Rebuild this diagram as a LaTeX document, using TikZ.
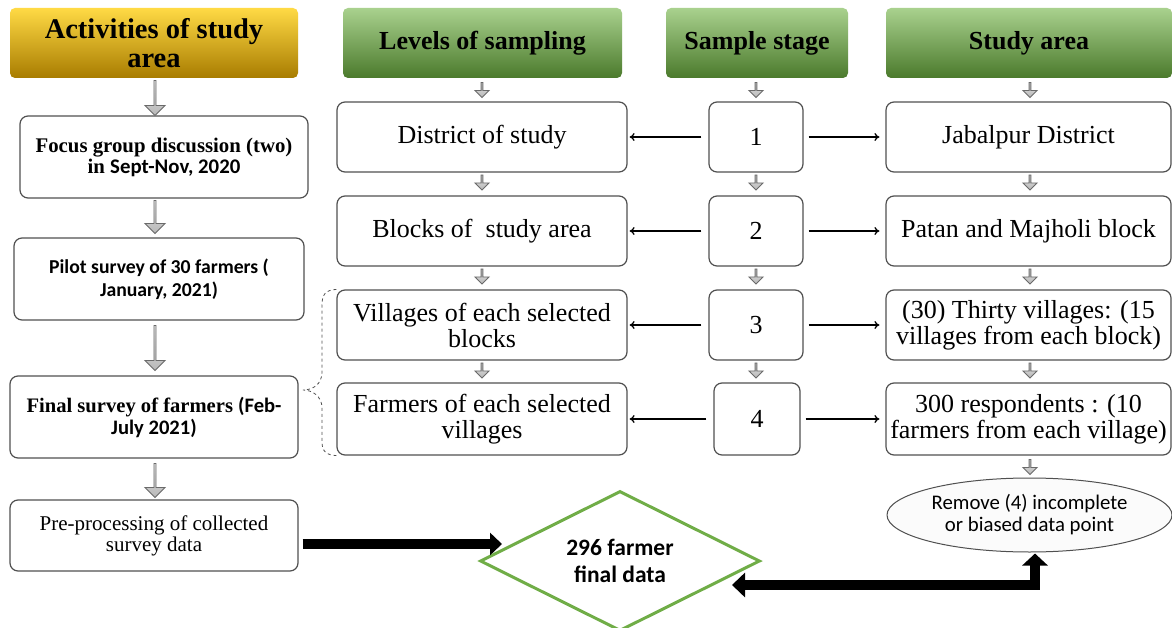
\documentclass[tikz,border=0pt]{standalone}
\usepackage{fontspec}
\setmainfont{Liberation Serif}
\newfontfamily\calfont{Carlito}
\usetikzlibrary{shapes.geometric,shapes.arrows,arrows.meta,calc}
\definecolor{gtop}{HTML}{FFDA45}
\definecolor{gmid}{HTML}{FFC000}
\definecolor{gbot}{HTML}{A87C00}
\definecolor{ntop}{HTML}{A9D18E}
\definecolor{nmid}{HTML}{70AD47}
\definecolor{nbot}{HTML}{4B7A2C}
\definecolor{boxline}{HTML}{505050}
\definecolor{arrfill}{HTML}{B8B8B8}
\definecolor{arrline}{HTML}{6A6A6A}
\definecolor{diagreen}{HTML}{70AD47}
\tikzset{
  hdr/.style={rounded corners=5pt, draw=none, align=center, inner sep=0pt,
    minimum height=70, font=\fontsize{26}{29}\selectfont\bfseries},
  goldhdr/.style={hdr, top color=gtop, middle color=gmid, bottom color=gbot,
    font=\fontsize{28.5}{29}\selectfont\bfseries},
  greenhdr/.style={hdr, top color=ntop, middle color=nmid, bottom color=nbot},
  lbox/.style={draw=boxline, line width=1.2pt, rounded corners=8pt, fill=white,
    align=center, inner sep=2pt},
  mbox/.style={lbox, minimum height=70, font=\fontsize{26}{26}\selectfont},
  bigarr/.style={single arrow, draw=arrline, line width=0.9pt, top color=arrfill!40, bottom color=arrfill,
    shape border rotate=270, minimum width=20, single arrow head extend=4pt,
    single arrow head indent=0pt, inner sep=0pt},
  smallarr/.style={bigarr, minimum width=14, single arrow head extend=3pt, minimum height=15},
  thinarr/.style={-{To[length=5pt,width=8pt]}, line width=1.3pt, black},
  thickarr/.style={line width=10pt, black, line join=miter},
}
\begin{document}
\begin{tikzpicture}[x=1pt,y=-1pt]
\useasboundingbox (0,0) rectangle (1172,628);
\fill[white] (0,0) rectangle (1172,628);
\clip (0,0) rectangle (1172,628);

% headers
\node[goldhdr, minimum width=288] (hA) at (154,43) {Activities of study\\area};
\node[greenhdr, minimum width=279] (hL) at (482.5,43) {Levels of sampling};
\node[greenhdr, minimum width=182] (hS) at (757,43) {Sample stage};
\node[greenhdr, minimum width=286] (hR) at (1029,43) {Study area};

% left column
\node[lbox, minimum width=288, minimum height=82, font=\fontsize{20.8}{21}\selectfont\bfseries] (f1) at (164,157)
  {Focus group discussion (two)\\in {\calfont Sept-Nov, 2020}};
\node[lbox, minimum width=290, minimum height=82, font=\fontsize{19.7}{23}\selectfont\calfont\bfseries] (f2) at (159,279)
  {Pilot survey of 30 farmers (\\January, 2021)};
\node[lbox, minimum width=288, minimum height=82, font=\fontsize{20.6}{22}\selectfont\bfseries] (f3) at (154,417)
  {Final survey of farmers {\calfont(Feb-}\\{\calfont July 2021)}};
\node[lbox, minimum width=288, minimum height=71, font=\fontsize{21}{21}\selectfont] (f4) at (154,535.5)
  {Pre-processing of collected\\survey data};

\node[bigarr, minimum height=35] (a1) at (155,97.5) {};
\node[bigarr, minimum height=33] (a2) at (155,216.5) {};
\node[bigarr, minimum height=45] (a3) at (155,347.5) {};
\node[bigarr, minimum height=34] (a4) at (155,480) {};

% middle column
\node[mbox, minimum width=290] (m1) at (482,137) {District of study};
\node[mbox, minimum width=290] (m2) at (482,231) {Blocks of \ study area};
\node[mbox, minimum width=290] (m3) at (482,325) {Villages of each selected\\blocks};
\node[mbox, minimum width=290, minimum height=72] (m4) at (482,419) {Farmers of each selected\\villages};

% number column
\node[mbox, minimum width=94] (n1) at (756,137) {1};
\node[mbox, minimum width=94] (n2) at (756,231) {2};
\node[mbox, minimum width=94] (n3) at (756,325) {3};
\node[mbox, minimum width=86, minimum height=72] (n4) at (757,419) {4};

% right column
\node[mbox, minimum width=285] (r1) at (1028.5,137) {Jabalpur District};
\node[mbox, minimum width=285] (r2) at (1028.5,231) {Patan and Majholi block};
\node[mbox, minimum width=285] (r3) at (1028.5,325) {(30) Thirty villages: (15\\villages from each block)};
\node[mbox, minimum width=285, minimum height=72] (r4) at (1028.5,419) {300 respondents : (10\\farmers from each village)};

\node[ellipse, draw=boxline, line width=1pt, fill=gray!3, minimum width=285, minimum height=74, inner sep=0pt,
  align=center, font=\fontsize{20.8}{22}\selectfont\calfont] (el) at (1029.5,515)
  {Remove (4) incomplete\\or biased data point};

\node[diamond, draw=diagreen, line width=3pt, fill=white, minimum width=280, minimum height=140, aspect=2,
  inner sep=0pt, align=center, font=\fontsize{23.5}{27}\selectfont\calfont\bfseries] (dia) at (620,561)
  {296 farmer\\final data};

% small gray arrows
\foreach \x/\c in {482/m,756/n,1030/r}{
  \node[smallarr] (\c a0) at (\x,89.5) {};
  \node[smallarr] (\c a1) at (\x,182) {};
  \node[smallarr] (\c a2) at (\x,276) {};
  \node[smallarr] (\c a3) at (\x,370) {};
}
\node[smallarr] (ra4) at (1030,466.5) {};

% thin arrows
\foreach \i in {1,2,3,4}{
  \draw[thinarr, shorten <=7pt, shorten >=2pt] (n\i.west) -- (m\i.east);
  \draw[thinarr, shorten <=5pt, shorten >=6pt] (n\i.east) -- (r\i.west);
}

% dashed brace
\coordinate (brtip) at (303,390);
\draw[dashed, line width=0.8pt, boxline] (m3.north west) .. controls (325,290) and (322,295) .. (322,305)
  -- (322,372) .. controls (322,385) and (312,390) .. (brtip)
  .. controls (312,390) and (322,396) .. (322,408)
  -- (322,442) .. controls (322,452) and (327,455) .. (m4.south west);

% thick arrows
\coordinate (dl) at (502,544);
\coordinate (dr) at (732,585);
\draw[thickarr, -{Triangle[length=12pt,width=22pt]}] ($(f4.east)+(4,8.5)$) -- (dl);
\draw[thickarr, {Triangle[length=13pt,width=24pt]}-{Triangle[length=12pt,width=25pt]}] (dr) -| ($(el.south)+(5.5,1)$);
\end{tikzpicture}
\end{document}
